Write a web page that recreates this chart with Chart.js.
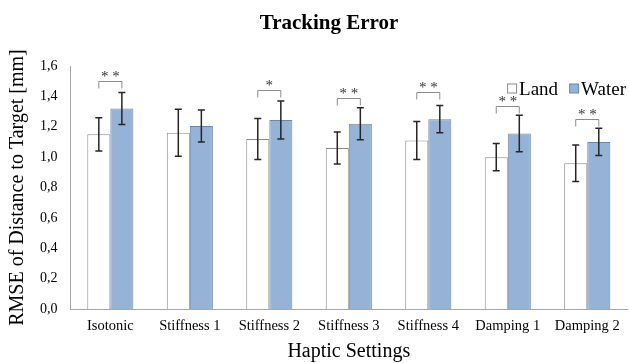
<!DOCTYPE html>
<html>
<head>
<meta charset="utf-8">
<script src="https://cdn.jsdelivr.net/npm/chart.js@4.4.1/dist/chart.umd.min.js"></script>
<style>
  html, body { margin: 0; padding: 0; background: #fff; }
  #wrap { width: 629px; height: 363px; }
</style>
</head>
<body>
<div id="wrap"><canvas id="chart" width="629" height="363"></canvas></div>
<script>
// ===== DATA =====
const categories = ["Isotonic", "Stiffness 1", "Stiffness 2", "Stiffness 3", "Stiffness 4", "Damping 1", "Damping 2"];
const landMean  = [1.15, 1.16, 1.12, 1.06, 1.11, 1.00, 0.96];
const landSd    = [0.11, 0.155, 0.135, 0.105, 0.125, 0.09, 0.12];
const waterMean = [1.32, 1.205, 1.245, 1.22, 1.25, 1.155, 1.10];
const waterSd   = [0.105, 0.105, 0.125, 0.105, 0.09, 0.12, 0.09];
// significance marks and bracket heights (value units)
const sigMarks  = ["**", "", "*", "**", "**", "**", "**"];
const sigLevel  = [1.50, null, 1.44, 1.39, 1.43, 1.335, 1.25];
const yTicks    = ["0,0", "0,2", "0,4", "0,6", "0,8", "1,0", "1,2", "1,4", "1,6"];

const SERIF = "'Liberation Serif', 'DejaVu Serif', serif";

// ===== PLUGIN: title, error bars, brackets, legend =====
const extras = {
    id: "extras",
    afterDatasetsDraw(chart) {
        const ctx = chart.ctx;
        const y = chart.scales.y;
        const sds = [landSd, waterSd];

        ctx.save();
        // error bars
        ctx.strokeStyle = "#262626";
        ctx.lineWidth = 1.5;
        chart.data.datasets.forEach((ds, di) => {
            chart.getDatasetMeta(di).data.forEach((bar, i) => {
                const v = ds.data[i];
                const top = y.getPixelForValue(v + sds[di][i]);
                const bot = y.getPixelForValue(v - sds[di][i]);
                ctx.beginPath();
                ctx.moveTo(bar.x, top); ctx.lineTo(bar.x, bot);
                ctx.moveTo(bar.x - 3.5, top); ctx.lineTo(bar.x + 3.5, top);
                ctx.moveTo(bar.x - 3.5, bot); ctx.lineTo(bar.x + 3.5, bot);
                ctx.stroke();
            });
        });

        // significance brackets
        const m0 = chart.getDatasetMeta(0).data;
        const m1 = chart.getDatasetMeta(1).data;
        ctx.strokeStyle = "#8c8c8c";
        ctx.lineWidth = 1;
        ctx.fillStyle = "#333";
        ctx.font = "15px " + SERIF;
        ctx.textAlign = "center";
        ctx.textBaseline = "alphabetic";
        sigMarks.forEach((mark, i) => {
            if (!mark) return;
            const by = Math.round(y.getPixelForValue(sigLevel[i])) + 0.5;
            const x0 = m0[i].x, x1 = m1[i].x;
            ctx.beginPath();
            ctx.moveTo(x0, by + 7); ctx.lineTo(x0, by);
            ctx.lineTo(x1, by); ctx.lineTo(x1, by + 7);
            ctx.stroke();
            ctx.fillText(mark.split("").join(" "), (x0 + x1) / 2, by - 1);
        });

        // title
        ctx.fillStyle = "#000";
        ctx.font = "bold 21px " + SERIF;
        ctx.fillText("Tracking Error", 329, 29);

        // legend
        ctx.font = "19px " + SERIF;
        ctx.textAlign = "left";
        const items = chart.data.datasets.map(ds => ({
            label: ds.label, fill: ds.backgroundColor, stroke: ds.borderColor
        }));
        const box = 9, gap = 3, spacing = 11;
        let total = 0;
        items.forEach((it, k) => {
            total += box + gap + ctx.measureText(it.label).width + (k ? spacing : 0);
        });
        let lx = chart.chartArea.right - total - 1;
        const ly = 88;
        items.forEach(it => {
            ctx.fillStyle = it.fill;
            ctx.fillRect(lx + 0.5, ly - box / 2 + 0.5, box, box);
            ctx.strokeStyle = it.stroke;
            ctx.strokeRect(lx + 0.5, ly - box / 2 + 0.5, box, box);
            lx += box + gap;
            ctx.fillStyle = "#000";
            ctx.fillText(it.label, lx, ly + 7);
            lx += ctx.measureText(it.label).width + spacing;
        });
        ctx.restore();
    }
};

// ===== BAR CHART =====
new Chart(document.getElementById("chart"), {
    type: "bar",
    data: {
        labels: categories,
        datasets: [
            {
                label: "Land",
                data: landMean,
                backgroundColor: "#ffffff",
                borderColor: "#8a8a8a",
                borderWidth: 1
            },
            {
                label: "Water",
                data: waterMean,
                backgroundColor: "#95b3d7",
                borderColor: "#6b86ab",
                borderWidth: 1
            }
        ]
    },
    options: {
        responsive: false,
        animation: false,
        layout: { padding: { top: 66, right: 2, bottom: 0, left: 0 } },
        categoryPercentage: 0.58,
        barPercentage: 1.0,
        plugins: {
            legend: { display: false },
            title: { display: false },
            tooltip: { enabled: false }
        },
        scales: {
            x: {
                grid: { display: false, drawTicks: false },
                border: { display: true, color: "#a6a6a6" },
                ticks: {
                    color: "#000",
                    font: { family: SERIF, size: 14.5 },
                    padding: 8,
                    maxRotation: 0,
                    autoSkip: false
                },
                title: {
                    display: true,
                    text: "Haptic Settings",
                    color: "#000",
                    font: { family: SERIF, size: 20, lineHeight: 1.1 },
                    padding: { top: 0, bottom: 0 }
                },
                afterFit(scale) { scale.height = 54; }
            },
            y: {
                min: 0,
                max: 1.6,
                grid: { display: false, drawTicks: false },
                border: { display: true, color: "#a6a6a6" },
                ticks: {
                    stepSize: 0.2,
                    color: "#000",
                    font: { family: SERIF, size: 14 },
                    padding: 13,
                    callback: (v, i) => yTicks[i]
                },
                title: {
                    display: true,
                    text: "RMSE of Distance to Target [mm]",
                    color: "#000",
                    font: { family: SERIF, size: 20 },
                    padding: { top: 6, bottom: 0 }
                },
                afterFit(scale) { scale.width = 70.6; }
            }
        }
    },
    plugins: [extras]
});
</script>
</body>
</html>
